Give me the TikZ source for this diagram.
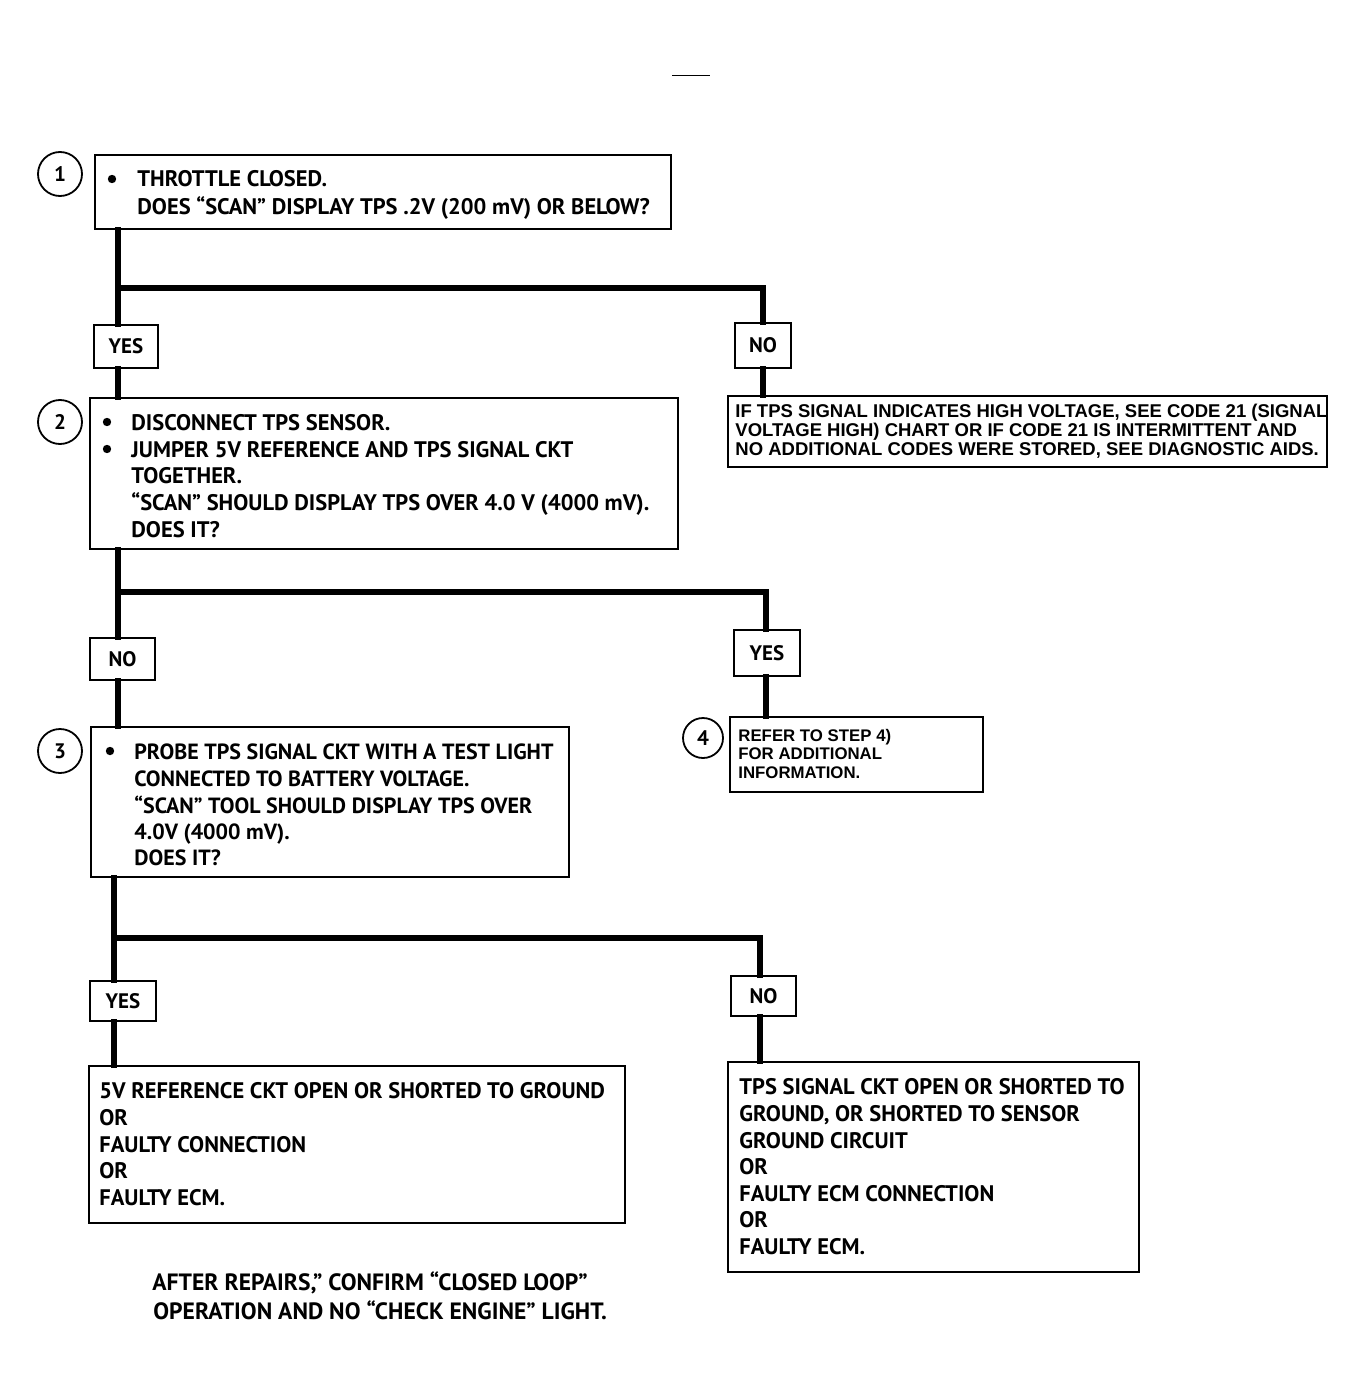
\documentclass[tikz,border=0pt]{standalone}
\usepackage{fontspec}
\newfontfamily\ptf{PT Sans}
\newfontfamily\hvf{Liberation Sans}
\begin{document}
\begin{tikzpicture}[x=0.5pt,y=-0.5pt,
  box/.style={draw,line width=1pt,rectangle,inner sep=0pt,anchor=north west},
  lbl/.style={draw,line width=1pt,rectangle,inner sep=0pt,font=\ptf\bfseries\fontsize{10.5}{12}\selectfont},
  conn/.style={line width=3.3pt,line join=miter,line cap=rect},
  circ/.style={draw,circle,line width=0.9pt,minimum size=22pt,inner sep=0pt,font=\ptf\bfseries\fontsize{10.5}{12}\selectfont},
  bul/.style={fill,circle,inner sep=0pt,minimum size=4.2pt},
  tx/.style={anchor=base west,inner sep=0pt,font=\ptf\bfseries\fontsize{11.25}{13}\selectfont},
  tn/.style={anchor=base west,inner sep=0pt,font=\ptf\bfseries\fontsize{11}{13}\selectfont},
  ft/.style={anchor=base west,inner sep=0pt,font=\ptf\bfseries\fontsize{11.8}{13}\selectfont},
  hx/.style={anchor=base west,inner sep=0pt,font=\hvf\bfseries\fontsize{9.25}{11}\selectfont},
  hs/.style={anchor=base west,inner sep=0pt,font=\hvf\bfseries\fontsize{8.4}{10}\selectfont}]
\useasboundingbox (0,0) rectangle (1365,1396);
\draw[line width=0.5pt] (672,76) -- (710,76);

% boxes
\node[box,minimum width=288pt,minimum height=37pt] (b1) at (94,154) {};
\node[box,minimum width=299.5pt,minimum height=35.5pt] (bN) at (727,395) {};
\node[box,minimum width=294pt,minimum height=75.5pt] (b2) at (89,397) {};
\node[box,minimum width=126.5pt,minimum height=37.5pt] (b4) at (729,716) {};
\node[box,minimum width=239pt,minimum height=75pt] (b3) at (90,726) {};
\node[box,minimum width=268pt,minimum height=78.5pt] (b5) at (88,1065) {};
\node[box,minimum width=205.5pt,minimum height=105pt] (b6) at (727,1061) {};

% circles
\node[circ] (c1) at (60,174) {1};
\node[circ] (c2) at (60,422) {2};
\node[circ] (c3) at (60,751) {3};
\node[circ,minimum size=20pt] (c4) at (703,738) {4};

% label boxes
\node[lbl,minimum width=32pt,minimum height=21.5pt] (yes1) at (126,346.5) {YES};
\node[lbl,minimum width=28pt,minimum height=22.5pt] (no1) at (763,345.5) {NO};
\node[lbl,minimum width=32.5pt,minimum height=21pt] (no2) at (122.5,659) {NO};
\node[lbl,minimum width=33pt,minimum height=23pt] (yes2) at (767,653) {YES};
\node[lbl,minimum width=33pt,minimum height=20pt] (yes3) at (123,1001) {YES};
\node[lbl,minimum width=32.5pt,minimum height=20pt] (no3) at (763.5,996) {NO};

% junction coordinates
\coordinate (j1) at (118,288);
\coordinate (k1) at (763,288);
\coordinate (j2) at (118,592);
\coordinate (k2) at (766,592);
\coordinate (j3) at (114,938);
\coordinate (k3) at (760,938);

% connectors
\draw[conn] (b1.south -| j1) -- (j1 |- yes1.north);
\draw[conn] (j1 |- yes1.south) -- (j1 |- b2.north);
\draw[conn] (j1) -- (k1) -- (k1 |- no1.north);
\draw[conn] (k1 |- no1.south) -- (k1 |- bN.north);

\draw[conn] (b2.south -| j2) -- (j2 |- no2.north);
\draw[conn] (j2 |- no2.south) -- (j2 |- b3.north);
\draw[conn] (j2) -- (k2) -- (k2 |- yes2.north);
\draw[conn] (k2 |- yes2.south) -- (k2 |- b4.north);

\draw[conn] (b3.south -| j3) -- (j3 |- yes3.north);
\draw[conn] (j3 |- yes3.south) -- (j3 |- b5.north);
\draw[conn] (j3) -- (k3) -- (k3 |- no3.north);
\draw[conn] (k3 |- no3.south) -- (k3 |- b6.north);

% box 1 text
\node[bul] (u11) at (112,179) {};
\node[tx] (t11) at (137,187) {THROTTLE CLOSED.};
\node[tx] (t12) at (137,214) {DOES “SCAN” DISPLAY TPS .2V (200 mV) OR BELOW?};

% box N text
\node[hx] (n1) at (735,417) {IF TPS SIGNAL INDICATES HIGH VOLTAGE, SEE CODE 21 (SIGNAL};
\node[hx] (n2) at (735,436) {VOLTAGE HIGH) CHART OR IF CODE 21 IS INTERMITTENT AND};
\node[hx] (n3) at (735,455) {NO ADDITIONAL CODES WERE STORED, SEE DIAGNOSTIC AIDS.};

% box 2 text
\node[bul] (u21) at (107,422) {};
\node[bul] (u22) at (107,449) {};
\node[tx] (t21) at (131,430) {DISCONNECT TPS SENSOR.};
\node[tx] (t22) at (131,457) {JUMPER 5V REFERENCE AND TPS SIGNAL CKT};
\node[tx] (t23) at (131,483) {TOGETHER.};
\node[tx] (t24) at (131,510) {“SCAN” SHOULD DISPLAY TPS OVER 4.0 V (4000 mV).};
\node[tx] (t25) at (131,537) {DOES IT?};

% box 4 text
\node[hs] (f1) at (738,741) {REFER TO STEP 4)};
\node[hs] (f2) at (738,759) {FOR ADDITIONAL};
\node[hs] (f3) at (738,778) {INFORMATION.};

% box 3 text
\node[bul] (u31) at (110,751) {};
\node[tn] (t31) at (134,759) {PROBE TPS SIGNAL CKT WITH A TEST LIGHT};
\node[tn] (t32) at (134,786) {CONNECTED TO BATTERY VOLTAGE.};
\node[tn] (t33) at (134,813) {“SCAN” TOOL SHOULD DISPLAY TPS OVER};
\node[tn] (t34) at (134,839) {4.0V (4000 mV).};
\node[tn] (t35) at (134,865) {DOES IT?};

% box 5 text
\node[tx] (t51) at (99,1098) {5V REFERENCE CKT OPEN OR SHORTED TO GROUND};
\node[tx] (t52) at (99,1125) {OR};
\node[tx] (t53) at (99,1152) {FAULTY CONNECTION};
\node[tx] (t54) at (99,1178) {OR};
\node[tx] (t55) at (99,1205) {FAULTY ECM.};

% box 6 text
\node[tx] (t61) at (739,1094) {TPS SIGNAL CKT OPEN OR SHORTED TO};
\node[tx] (t62) at (739,1121) {GROUND, OR SHORTED TO SENSOR};
\node[tx] (t63) at (739,1148) {GROUND CIRCUIT};
\node[tx] (t64) at (739,1174) {OR};
\node[tx] (t65) at (739,1201) {FAULTY ECM CONNECTION};
\node[tx] (t66) at (739,1227) {OR};
\node[tx] (t67) at (739,1254) {FAULTY ECM.};

% footer
\node[ft] (ft1) at (152,1290) {AFTER REPAIRS,” CONFIRM “CLOSED LOOP”};
\node[ft] (ft2) at (153,1319) {OPERATION AND NO “CHECK ENGINE” LIGHT.};
\end{tikzpicture}
\end{document}
